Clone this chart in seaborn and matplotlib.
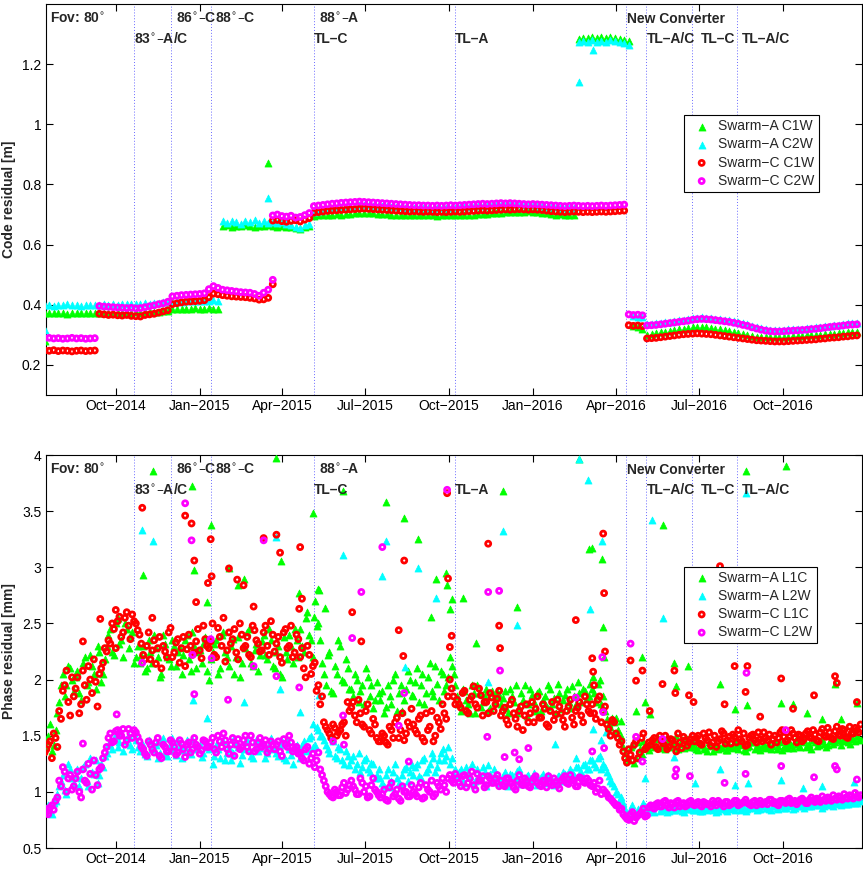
import pandas as pd
import matplotlib
matplotlib.use("Agg")
import matplotlib.pyplot as plt
import matplotlib.transforms as mtransforms
import seaborn as sns

sns.set_style("ticks")
plt.rcParams["font.family"] = ["Liberation Sans", "DejaVu Sans"]
plt.rcParams["axes.unicode_minus"] = True

# ---------------------------------------------------------------------------
# Code residuals [m], one sample every 5 days starting 2014-07-15
# ---------------------------------------------------------------------------
code_start = "2014-07-15"
code_step_days = 5

code_a_c1w = [
    0.372, 0.374, 0.371, 0.373, 0.372, 0.370, 0.373, 0.372, 0.374, 0.371, 0.372, 0.373,
    0.372, 0.373, 0.371, 0.372, 0.374, 0.373, 0.372, 0.374, 0.375, 0.374, 0.376, 0.375,
    0.377, 0.376, 0.378, 0.380,
    0.385, 0.386, 0.385, 0.387, 0.386, 0.388, 0.387, 0.386, 0.388, 0.387, 0.386,
    0.662, 0.664, 0.660, 0.663, 0.661, 0.665, 0.662, 0.660, 0.663, 0.661,
    0.664, 0.662, 0.660, 0.663, 0.658, 0.660, 0.655, 0.652, 0.658, 0.662,
    0.695, 0.697, 0.698, 0.700, 0.699, 0.701, 0.700, 0.702, 0.703, 0.704, 0.705,
    0.706, 0.705, 0.704, 0.703, 0.702, 0.701, 0.700, 0.699, 0.700, 0.698, 0.697,
    0.698, 0.697, 0.699, 0.698, 0.697, 0.696, 0.698, 0.697, 0.699, 0.698, 0.697, 0.698,
    0.699, 0.700, 0.701, 0.702, 0.703, 0.704, 0.705, 0.706, 0.707, 0.708, 0.708, 0.709,
    0.710, 0.711, 0.710, 0.709, 0.706, 0.704, 0.702, 0.700, 0.701, 0.699, 0.700, 0.698,
    1.285, 1.288, 1.286, 1.290, 1.287, 1.289, 1.286, 1.291, 1.288, 1.285, 1.280, 1.276,
    0.330, 0.325, 0.320,
    0.300, 0.302, 0.305, 0.308, 0.310, 0.313, 0.316, 0.318, 0.320, 0.322,
    0.325, 0.327, 0.326, 0.325, 0.323, 0.320, 0.318, 0.315, 0.312, 0.308,
    0.305, 0.302, 0.299, 0.296, 0.294, 0.293, 0.292, 0.292, 0.293, 0.292,
    0.293, 0.294, 0.295, 0.296, 0.297, 0.298, 0.299, 0.300, 0.301, 0.302,
    0.303, 0.304, 0.306, 0.307, 0.308, 0.309, 0.310,
]
code_a_c2w = [
    0.398, 0.400, 0.397, 0.399, 0.398, 0.401, 0.398, 0.400, 0.397, 0.399, 0.398, 0.400,
    0.400, 0.401, 0.399, 0.402, 0.400, 0.401, 0.403, 0.402, 0.404, 0.403, 0.405, 0.404,
    0.406, 0.405,
    0.408, 0.409, 0.410, 0.411, 0.410, 0.412, 0.411, 0.413, 0.412, 0.414, 0.413, 0.415, 0.414,
    0.678, 0.672, 0.680, 0.675, 0.670, 0.679, 0.674, 0.681, 0.673, 0.677,
    0.671, 0.676, 0.672, 0.674, 0.668, 0.665, 0.660, 0.656, 0.664, 0.670,
    0.708, 0.712, 0.715, 0.718, 0.720, 0.722, 0.724, 0.726, 0.728, 0.730, 0.731,
    0.732, 0.731, 0.730, 0.729, 0.728, 0.727, 0.726, 0.725, 0.724, 0.723, 0.722,
    0.722, 0.721, 0.722, 0.721, 0.720, 0.721, 0.722, 0.721, 0.722, 0.723, 0.724, 0.725,
    0.726, 0.727, 0.728, 0.729, 0.730, 0.731, 0.732, 0.733, 0.734, 0.734, 0.735, 0.734,
    0.733, 0.732, 0.731, 0.730, 0.728, 0.726, 0.725, 0.724, 0.723, 0.722, 0.722, 0.721,
    1.272, 1.276, 1.274, 1.279, 1.275, 1.278, 1.273, 1.280, 1.276, 1.274, 1.270, 1.265,
    0.362, 0.360, 0.358,
    0.336, 0.337, 0.338, 0.340, 0.342, 0.344, 0.346, 0.348, 0.350, 0.352,
    0.355, 0.357, 0.358, 0.357, 0.356, 0.354, 0.352, 0.350, 0.348, 0.345,
    0.342, 0.338, 0.335, 0.330, 0.326, 0.322, 0.319, 0.317, 0.316, 0.316,
    0.317, 0.318, 0.319, 0.320, 0.321, 0.322, 0.324, 0.325, 0.327, 0.329,
    0.331, 0.333, 0.334, 0.336, 0.338, 0.339, 0.340,
]
code_c_c1w = [
    0.248, 0.247, 0.249, 0.246, 0.248, 0.247, 0.245, 0.247, 0.248, 0.246, 0.247, 0.248,
    0.370, 0.368, 0.366, 0.367, 0.365, 0.364, 0.366, 0.363, 0.362, 0.361,
    0.366, 0.368, 0.370, 0.374, 0.378, 0.382, 0.402, 0.405, 0.408, 0.410,
    0.411, 0.412, 0.413, 0.415, 0.425, 0.437, 0.435, 0.432, 0.430, 0.428,
    0.427, 0.426, 0.425, 0.423, 0.421, 0.417, 0.418, 0.423,
    0.680, 0.682, 0.678, 0.676, 0.679, 0.681, 0.677, 0.683, 0.688,
    0.706, 0.708, 0.710, 0.712, 0.713, 0.714, 0.715, 0.716, 0.717, 0.718,
    0.719, 0.720, 0.719, 0.718, 0.717, 0.716, 0.715, 0.714, 0.713, 0.712,
    0.711, 0.710, 0.711, 0.710, 0.709, 0.710, 0.709, 0.708, 0.709, 0.708,
    0.709, 0.710, 0.709, 0.710, 0.711, 0.712, 0.713, 0.714, 0.713, 0.714,
    0.715, 0.716, 0.717, 0.716, 0.717, 0.718, 0.717, 0.716, 0.717, 0.716,
    0.715, 0.713, 0.711, 0.710, 0.709, 0.708, 0.709, 0.710, 0.709, 0.708,
    0.709, 0.708, 0.709, 0.710, 0.709, 0.710, 0.711, 0.712, 0.713,
    0.332, 0.330, 0.331, 0.329,
    0.288, 0.289, 0.290, 0.292, 0.294, 0.296, 0.298, 0.300, 0.302, 0.303,
    0.304, 0.305, 0.304, 0.303, 0.302, 0.300, 0.298, 0.296, 0.294, 0.292,
    0.290, 0.288, 0.286, 0.284, 0.282, 0.281, 0.280, 0.279, 0.278, 0.278,
    0.278, 0.279, 0.280, 0.281, 0.282, 0.283, 0.284, 0.285, 0.287, 0.288,
    0.290, 0.291, 0.292, 0.294, 0.295, 0.297, 0.298,
]
code_c_c2w = [
    0.289, 0.290, 0.288, 0.289, 0.287, 0.288, 0.290, 0.288, 0.289, 0.287, 0.288, 0.289,
    0.396, 0.394, 0.393, 0.392, 0.391, 0.390, 0.389, 0.390, 0.388, 0.389,
    0.392, 0.395, 0.398, 0.402, 0.405, 0.410, 0.428, 0.430, 0.432, 0.433,
    0.434, 0.435, 0.436, 0.438, 0.452, 0.462, 0.456, 0.450, 0.448, 0.446,
    0.444, 0.442, 0.441, 0.440, 0.436, 0.430, 0.440, 0.450,
    0.697, 0.700, 0.695, 0.693, 0.696, 0.690, 0.692, 0.698, 0.705,
    0.728, 0.730, 0.732, 0.734, 0.736, 0.737, 0.739, 0.740, 0.741, 0.742,
    0.743, 0.742, 0.741, 0.740, 0.739, 0.738, 0.737, 0.736, 0.735, 0.734,
    0.733, 0.732, 0.731, 0.731, 0.730, 0.730, 0.729, 0.730, 0.729, 0.730,
    0.731, 0.730, 0.731, 0.732, 0.733, 0.734, 0.735, 0.736, 0.735, 0.736,
    0.737, 0.738, 0.737, 0.738, 0.737, 0.736, 0.735, 0.734, 0.735, 0.734,
    0.733, 0.732, 0.731, 0.730, 0.729, 0.728, 0.729, 0.730, 0.729, 0.728,
    0.729, 0.728, 0.729, 0.730, 0.729, 0.730, 0.731, 0.732, 0.733,
    0.368, 0.366, 0.367, 0.365,
    0.331, 0.332, 0.333, 0.335, 0.337, 0.339, 0.341, 0.343, 0.345, 0.347,
    0.350, 0.352, 0.353, 0.352, 0.351, 0.349, 0.347, 0.345, 0.343, 0.340,
    0.337, 0.333, 0.330, 0.325, 0.321, 0.317, 0.314, 0.312, 0.311, 0.311,
    0.312, 0.313, 0.314, 0.315, 0.316, 0.317, 0.319, 0.320, 0.322, 0.324,
    0.326, 0.328, 0.329, 0.331, 0.333, 0.334, 0.335,
]

# isolated code residuals off the regular sampling
code_a_c1w_extra = [("2014-07-15", 0.28), ("2015-03-17", 0.87)]
code_a_c2w_extra = [("2014-07-15", 0.315), ("2015-03-17", 0.755),
                    ("2016-02-20", 1.14), ("2016-03-07", 1.248)]
code_c_c1w_extra = [("2015-03-22", 0.468)]
code_c_c2w_extra = [("2015-03-22", 0.483)]

# ---------------------------------------------------------------------------
# Phase residuals [mm], every 4 days from 2014-07-15, plus the in-between
# samples (every 4 days from 2014-07-17)
# ---------------------------------------------------------------------------
phase_start = "2014-07-15"
phase_mid_start = "2014-07-17"
phase_step_days = 4

phase_a_l1c = [
    1.40, 1.50, 1.36, 1.55,
    1.80, 2.05, 1.95, 2.10,
    1.90, 2.08, 1.82, 2.20, 1.98, 2.12, 1.92, 2.25, 2.05,
    2.30, 2.45, 2.22, 2.55, 2.35, 2.50, 2.28, 2.42, 2.20,
    2.15, 2.30, 2.10, 2.25, 2.40, 2.20, 2.05, 2.32, 2.18, 2.35,
    2.12, 2.28, 2.22, 2.40, 2.08, 2.30, 2.25, 2.15, 2.38,
    2.00, 2.25, 2.35, 2.10, 2.42, 2.20, 2.30, 2.05, 2.38, 2.15,
    2.28, 2.45, 2.12, 2.32, 2.22, 2.40, 2.18, 2.35,
    2.10, 2.30, 2.02, 2.25, 2.40, 2.15, 2.35,
    2.45, 2.25, 2.60, 2.35, 2.70, 2.50,
    2.15, 1.95, 2.25, 1.88, 2.05, 2.30, 1.98, 2.10,
    1.92, 2.05, 1.80, 1.95, 2.10, 1.85, 1.75, 1.98,
    1.82, 1.70, 1.95, 1.78, 2.05, 1.88, 1.72, 1.92, 2.00,
    1.85, 2.10, 1.95, 1.78, 2.02, 1.90, 2.12, 1.82, 2.05, 1.95,
    2.20, 2.05,
    1.85, 1.72, 1.90, 1.78, 1.95, 1.70, 1.88, 1.80, 1.92, 1.75, 1.85, 1.90,
    1.78, 1.90, 1.70, 1.85, 1.95, 1.75, 1.82, 1.68, 1.92, 1.80,
    1.88, 1.72, 1.85, 1.95, 1.78, 1.70, 1.88, 1.82, 1.92, 1.75,
    1.85, 1.98, 1.80, 1.90, 1.85,
    1.92, 1.80, 2.00, 1.85,
    1.65, 1.58, 1.62, 1.55, 1.50,
    1.35, 1.28, 1.42, 1.30, 1.38, 1.45, 1.40,
    1.45, 1.40, 1.48, 1.42, 1.38, 1.46, 1.41, 1.50, 1.43, 1.39, 1.47, 1.42,
    1.40, 1.37, 1.42, 1.38, 1.44, 1.36, 1.41, 1.39, 1.43, 1.37,
    1.40, 1.45, 1.38, 1.42, 1.36, 1.41, 1.44, 1.39, 1.37, 1.43,
    1.40, 1.38, 1.45, 1.41, 1.37, 1.42, 1.44, 1.39, 1.43, 1.40,
    1.46, 1.41, 1.38, 1.44, 1.42, 1.47, 1.40, 1.45, 1.43, 1.48,
    1.42, 1.46, 1.44, 1.49, 1.45, 1.47,
]
phase_a_l1c_mid = [
    1.45, 1.60, 1.42, 1.70,
    1.95, 1.85, 2.12, 2.00,
    2.02, 1.88, 2.15, 1.95, 2.22, 2.05, 2.30, 1.98, 2.18,
    2.40, 2.25, 2.50, 2.32, 2.20, 2.45, 2.38, 2.15, 2.30,
    2.22, 2.08, 2.35, 2.15, 2.28, 2.02, 2.40, 2.20, 2.12, 2.30,
    2.25, 2.05, 2.35, 2.18, 2.42, 2.10, 2.26, 2.32, 2.08,
    2.18, 2.32, 2.05, 2.40, 2.25, 2.12, 2.36, 2.20, 2.02, 2.30,
    2.42, 2.15, 2.26, 2.08, 2.34, 2.22, 2.45, 2.12,
    2.25, 2.05, 2.38, 2.18, 2.30, 2.45, 2.20,
    2.30, 2.55, 2.40, 2.20, 2.48, 2.35,
    2.05, 2.22, 1.90, 2.12, 2.35, 2.00, 2.18, 1.92,
    1.85, 2.00, 1.90, 1.78, 2.02, 1.95, 1.82, 1.88,
    1.90, 1.76, 1.85, 2.00, 1.72, 1.95, 1.82, 2.08, 1.86,
    1.98, 1.80, 2.05, 1.88, 2.15, 1.85, 1.96, 2.08, 1.90, 2.02,
    2.12, 1.95,
    1.78, 1.92, 1.82, 1.70, 1.88, 1.95, 1.76, 1.85, 1.72, 1.90, 1.80, 1.86,
    1.84, 1.75, 1.92, 1.80, 1.70, 1.88, 1.95, 1.78, 1.86, 1.72,
    1.90, 1.82, 1.76, 1.92, 1.84, 1.96, 1.74, 1.86, 1.80, 1.94,
    1.78, 1.88, 1.92, 1.84, 1.96,
    1.88, 1.96, 1.78, 1.72,
    1.60, 1.66, 1.52, 1.48, 1.40,
    1.30, 1.40, 1.26, 1.44, 1.34, 1.42, 1.37,
    1.42, 1.47, 1.39, 1.44, 1.49, 1.40, 1.45, 1.38, 1.46, 1.42, 1.40, 1.44,
    1.38, 1.42, 1.39, 1.36, 1.41, 1.43, 1.38, 1.40, 1.37, 1.42,
    1.39, 1.41, 1.43, 1.37, 1.40, 1.44, 1.38, 1.42, 1.40, 1.39,
    1.43, 1.41, 1.38, 1.44, 1.40, 1.39, 1.42, 1.45, 1.41, 1.44,
    1.40, 1.43, 1.46, 1.41, 1.45, 1.43, 1.42, 1.47, 1.44, 1.46,
    1.45, 1.48, 1.43, 1.47, 1.50, 1.46,
]
phase_a_l2w = [
    0.82, 0.88, 0.80, 0.92,
    1.05, 1.15, 0.98, 1.20,
    1.08, 1.20, 1.12, 1.25, 1.05, 1.18, 1.28, 1.15, 1.22,
    1.35, 1.42, 1.48, 1.40, 1.52, 1.45, 1.50, 1.38, 1.46,
    1.36, 1.42, 1.32, 1.45, 1.38, 1.30, 1.44, 1.35, 1.40, 1.48,
    1.33, 1.41, 1.37, 1.46, 1.34, 1.43, 1.39, 1.31, 1.45,
    1.38, 1.25, 1.42, 1.30, 1.45, 1.35, 1.28, 1.48, 1.40, 1.33,
    1.44, 1.37, 1.30, 1.46, 1.39, 1.42, 1.35, 1.48,
    1.40, 1.32, 1.45, 1.28, 1.38, 1.25, 1.42,
    1.30, 1.45, 1.38, 1.50, 1.42, 1.55,
    1.50, 1.42, 1.35, 1.45, 1.30, 1.38, 1.25, 1.32,
    1.28, 1.20, 1.35, 1.22, 1.30, 1.18, 1.25, 1.15,
    1.12, 1.05, 1.20, 1.10, 1.25, 1.08, 1.15, 1.22, 1.18,
    1.15, 1.25, 1.12, 1.30, 1.20, 1.35, 1.18, 1.28, 1.38, 1.32,
    1.25, 1.15,
    1.12, 1.20, 1.08, 1.18, 1.25, 1.10, 1.15, 1.22, 1.05, 1.16, 1.20, 1.12,
    1.10, 1.18, 1.05, 1.15, 1.12, 1.20, 1.08, 1.14, 1.10, 1.17,
    1.06, 1.13, 1.09, 1.15, 1.11, 1.07, 1.14, 1.18, 1.10, 1.20,
    1.15, 1.22, 1.18, 1.25, 1.20,
    1.28, 1.22, 1.32, 1.25,
    1.18, 1.10, 1.05, 0.98, 0.95,
    0.85, 0.78, 0.88, 0.80, 0.84, 0.90, 0.82,
    0.86, 0.82, 0.88, 0.84, 0.85, 0.83, 0.87, 0.84, 0.86, 0.82, 0.85, 0.87,
    0.84, 0.86, 0.83, 0.85, 0.87, 0.84, 0.82, 0.86, 0.85, 0.83,
    0.86, 0.84, 0.87, 0.85, 0.83, 0.86, 0.88, 0.84, 0.85, 0.87,
    0.86, 0.84, 0.88, 0.85, 0.87, 0.86, 0.89, 0.85, 0.87, 0.88,
    0.86, 0.89, 0.87, 0.90, 0.88, 0.86, 0.89, 0.91, 0.87, 0.90,
    0.88, 0.92, 0.89, 0.91, 0.90, 0.93,
]
phase_a_l2w_mid = [
    0.85, 0.84, 0.90, 0.98,
    1.10, 1.02, 1.25, 1.12,
    1.15, 1.05, 1.22, 1.10, 1.30, 1.16, 1.08, 1.25, 1.32,
    1.42, 1.38, 1.50, 1.44, 1.36, 1.48, 1.42, 1.52, 1.40,
    1.40, 1.34, 1.46, 1.38, 1.42, 1.35, 1.48, 1.32, 1.43, 1.37,
    1.45, 1.30, 1.40, 1.36, 1.47, 1.38, 1.42, 1.35, 1.40,
    1.42, 1.32, 1.38, 1.45, 1.28, 1.40, 1.35, 1.43, 1.26, 1.38,
    1.46, 1.32, 1.40, 1.36, 1.44, 1.30, 1.42, 1.38,
    1.35, 1.42, 1.30, 1.46, 1.33, 1.40, 1.36,
    1.42, 1.36, 1.48, 1.40, 1.58, 1.50,
    1.46, 1.38, 1.50, 1.32, 1.40, 1.28, 1.36, 1.24,
    1.32, 1.25, 1.18, 1.28, 1.20, 1.26, 1.12, 1.20,
    1.08, 1.15, 1.04, 1.18, 1.12, 1.06, 1.20, 1.10, 1.24,
    1.22, 1.14, 1.28, 1.18, 1.25, 1.30, 1.22, 1.35, 1.28, 1.40,
    1.30, 1.20,
    1.18, 1.10, 1.22, 1.14, 1.06, 1.20, 1.12, 1.18, 1.24, 1.10, 1.15, 1.08,
    1.14, 1.08, 1.16, 1.10, 1.19, 1.07, 1.12, 1.15, 1.09, 1.13,
    1.11, 1.16, 1.08, 1.12, 1.06, 1.14, 1.10, 1.16, 1.12, 1.18,
    1.22, 1.16, 1.24, 1.20, 1.28,
    1.25, 1.30, 1.20, 1.22,
    1.14, 1.08, 1.00, 0.94, 0.90,
    0.80, 0.86, 0.79, 0.85, 0.82, 0.87, 0.84,
    0.84, 0.87, 0.83, 0.86, 0.82, 0.85, 0.84, 0.86, 0.83, 0.87, 0.85, 0.84,
    0.85, 0.83, 0.86, 0.84, 0.86, 0.85, 0.83, 0.87, 0.84, 0.86,
    0.85, 0.87, 0.84, 0.86, 0.85, 0.87, 0.86, 0.85, 0.88, 0.86,
    0.85, 0.87, 0.86, 0.88, 0.86, 0.87, 0.88, 0.86, 0.89, 0.87,
    0.88, 0.87, 0.89, 0.88, 0.90, 0.87, 0.89, 0.88, 0.90, 0.89,
    0.91, 0.89, 0.90, 0.92, 0.90, 0.92,
]
phase_c_l1c = [
    1.35, 1.42, 1.30, 1.48,
    1.72, 1.90, 2.08, 1.68,
    1.85, 2.02, 1.78, 1.95, 2.12, 1.88, 1.98, 2.05, 2.15,
    2.25, 2.32, 2.45, 2.52, 2.38, 2.55, 2.48, 2.58, 2.50,
    2.40, 2.22, 2.30, 2.18, 2.35, 2.28, 2.10, 2.25, 2.42, 2.20,
    2.33, 2.15, 2.38, 2.27, 2.30, 2.24, 2.45, 2.19, 2.36,
    2.28, 2.50, 2.20, 2.38, 2.55, 2.26, 2.32, 2.45, 2.18, 2.40,
    2.30, 2.22, 2.48, 2.35, 2.25, 2.42, 2.30, 2.52,
    2.25, 2.38, 2.15, 2.45, 2.30, 2.20, 2.40,
    2.20, 2.10, 2.30, 2.05, 2.15, 1.95,
    1.85, 1.58, 1.52, 1.60, 1.50, 1.55, 1.62, 1.80,
    1.75, 1.68, 1.82, 1.60, 1.72, 1.55, 1.65, 1.48,
    1.45, 1.50, 1.42, 1.55, 1.62, 1.48, 1.70, 1.52, 1.58,
    1.60, 1.52, 1.68, 1.45, 1.55, 1.72, 1.50, 1.62, 1.78, 1.65,
    2.00, 1.85,
    1.82, 1.75, 1.90, 1.70, 1.85, 1.78, 1.92, 1.68, 1.80, 1.88, 1.72, 1.83,
    1.68, 1.75, 1.60, 1.82, 1.65, 1.72, 1.55, 1.78, 1.70, 1.62,
    1.85, 1.66, 1.74, 1.58, 1.80, 1.69, 1.76, 1.64, 1.72, 1.82,
    1.60, 1.75, 1.68, 1.85, 1.72,
    1.78, 1.65, 1.85, 1.72,
    1.60, 1.50, 1.62, 1.48, 1.45,
    1.30, 1.38, 1.28, 1.45, 1.35, 1.52, 1.40,
    1.42, 1.48, 1.38, 1.45, 1.50, 1.40, 1.46, 1.36, 1.44, 1.49, 1.41, 1.47,
    1.45, 1.50, 1.42, 1.48, 1.53, 1.44, 1.40, 1.47, 1.52, 1.46,
    1.43, 1.49, 1.55, 1.45, 1.41, 1.48, 1.51, 1.44, 1.47, 1.53,
    1.46, 1.42, 1.50, 1.48, 1.55, 1.45, 1.49, 1.52, 1.44, 1.50,
    1.47, 1.54, 1.48, 1.51, 1.45, 1.56, 1.49, 1.53, 1.47, 1.58,
    1.50, 1.55, 1.48, 1.52, 1.57, 1.53,
]
phase_c_l1c_mid = [
    1.38, 1.45, 1.52, 1.40,
    1.65, 1.95, 1.80, 2.02,
    1.92, 1.70, 2.08, 1.82, 2.00, 2.18, 1.76, 2.10, 2.28,
    2.35, 2.50, 2.28, 2.56, 2.42, 2.60, 2.36, 2.52, 2.44,
    2.32, 2.18, 2.42, 2.26, 2.14, 2.38, 2.30, 2.20, 2.46, 2.24,
    2.36, 2.28, 2.12, 2.40, 2.22, 2.34, 2.26, 2.48, 2.30,
    2.34, 2.22, 2.46, 2.30, 2.16, 2.42, 2.36, 2.24, 2.50, 2.28,
    2.38, 2.20, 2.44, 2.32, 2.26, 2.48, 2.22, 2.40,
    2.32, 2.20, 2.42, 2.28, 2.48, 2.24, 2.36,
    2.28, 2.02, 2.22, 2.12, 1.90, 1.78,
    1.62, 1.55, 1.48, 1.57, 1.53, 1.60, 1.50, 1.72,
    1.80, 1.62, 1.70, 1.58, 1.78, 1.52, 1.60, 1.45,
    1.52, 1.44, 1.58, 1.48, 1.66, 1.55, 1.46, 1.62, 1.74,
    1.55, 1.65, 1.48, 1.70, 1.58, 1.45, 1.66, 1.56, 1.70, 1.85,
    1.92, 1.78,
    1.78, 1.88, 1.72, 1.82, 1.94, 1.75, 1.86, 1.80, 1.70, 1.84, 1.78, 1.90,
    1.72, 1.64, 1.78, 1.70, 1.58, 1.76, 1.68, 1.62, 1.80, 1.74,
    1.66, 1.78, 1.60, 1.72, 1.64, 1.82, 1.70, 1.58, 1.76, 1.66,
    1.72, 1.80, 1.62, 1.78, 1.70,
    1.70, 1.82, 1.62, 1.76,
    1.56, 1.64, 1.52, 1.42, 1.36,
    1.26, 1.33, 1.42, 1.30, 1.48, 1.38, 1.44,
    1.46, 1.40, 1.50, 1.43, 1.38, 1.47, 1.42, 1.52, 1.39, 1.46, 1.44, 1.50,
    1.48, 1.43, 1.52, 1.46, 1.41, 1.50, 1.45, 1.54, 1.43, 1.49,
    1.51, 1.44, 1.47, 1.52, 1.42, 1.50, 1.46, 1.53, 1.45, 1.48,
    1.51, 1.47, 1.44, 1.53, 1.49, 1.46, 1.55, 1.48, 1.51, 1.45,
    1.52, 1.49, 1.55, 1.46, 1.53, 1.50, 1.57, 1.48, 1.54, 1.51,
    1.56, 1.49, 1.58, 1.52, 1.55, 1.60,
]
phase_c_l2w = [
    0.85, 0.80, 0.88, 0.92,
    1.10, 1.22, 1.00, 1.15,
    1.05, 1.18, 0.95, 1.10, 1.25, 1.02, 1.15, 1.20, 1.30,
    1.40, 1.52, 1.45, 1.55, 1.50, 1.42, 1.56, 1.48, 1.53,
    1.45, 1.38, 1.32, 1.42, 1.35, 1.48, 1.30, 1.40, 1.36, 1.44,
    1.33, 1.46, 1.38, 1.42, 1.35, 1.48, 1.40, 1.37, 1.45,
    1.40, 1.48, 1.35, 1.45, 1.52, 1.38, 1.42, 1.32, 1.47, 1.40,
    1.50, 1.36, 1.44, 1.38, 1.48, 1.42, 1.35, 1.45,
    1.38, 1.45, 1.32, 1.42, 1.50, 1.36, 1.40,
    1.35, 1.28, 1.40, 1.30, 1.22, 1.35,
    1.15, 1.05, 0.98, 0.95, 1.00, 0.97, 1.08, 1.02,
    1.10, 1.02, 0.98, 1.08, 1.05, 0.96, 1.12, 1.00,
    0.95, 1.02, 0.92, 1.08, 0.98, 0.94, 1.05, 1.00, 0.96,
    1.00, 0.96, 1.08, 0.95, 1.02, 1.10, 0.98, 1.05, 1.12, 1.00,
    1.15, 1.08,
    1.12, 1.05, 1.15, 1.08, 1.18, 1.02, 1.10, 1.14, 1.06, 1.12, 1.08, 1.15,
    1.10, 1.05, 1.12, 1.08, 1.02, 1.15, 1.06, 1.10, 1.04, 1.12,
    1.08, 1.05, 1.10, 1.14, 1.06, 1.09, 1.03, 1.12, 1.08, 1.15,
    1.10, 1.05, 1.12, 1.08, 1.10,
    1.05, 1.00, 1.10, 1.02,
    0.98, 0.94, 0.90, 0.88, 0.85,
    0.78, 0.75, 0.82, 0.77, 0.80, 0.85, 0.79,
    0.88, 0.85, 0.90, 0.87, 0.92, 0.86, 0.89, 0.91, 0.87, 0.90, 0.88, 0.92,
    0.88, 0.91, 0.87, 0.90, 0.89, 0.92, 0.88, 0.90, 0.87, 0.91,
    0.89, 0.92, 0.88, 0.90, 0.93, 0.89, 0.91, 0.88, 0.92, 0.90,
    0.89, 0.93, 0.91, 0.88, 0.92, 0.90, 0.94, 0.91, 0.89, 0.93,
    0.92, 0.90, 0.95, 0.91, 0.93, 0.96, 0.92, 0.94, 0.97, 0.93,
    0.95, 0.98, 0.94, 0.96, 0.99, 0.95,
]
phase_c_l2w_mid = [
    0.82, 0.86, 0.84, 0.95,
    1.05, 1.18, 1.12, 1.02,
    1.12, 1.00, 1.20, 1.08, 1.16, 1.28, 1.06, 1.22, 1.35,
    1.48, 1.44, 1.54, 1.50, 1.56, 1.46, 1.52, 1.55, 1.49,
    1.40, 1.34, 1.45, 1.38, 1.44, 1.32, 1.42, 1.36, 1.46, 1.40,
    1.35, 1.43, 1.31, 1.44, 1.38, 1.42, 1.34, 1.46, 1.40,
    1.44, 1.38, 1.50, 1.40, 1.46, 1.34, 1.48, 1.42, 1.38, 1.46,
    1.40, 1.50, 1.36, 1.44, 1.40, 1.46, 1.38, 1.42,
    1.42, 1.36, 1.47, 1.40, 1.44, 1.38, 1.34,
    1.30, 1.38, 1.25, 1.34, 1.28, 1.20,
    1.10, 1.00, 0.96, 1.02, 0.97, 1.04, 0.99, 1.06,
    1.05, 0.98, 1.12, 1.00, 0.95, 1.06, 1.02, 0.97,
    0.98, 0.93, 1.04, 0.96, 1.02, 0.92, 1.00, 0.96, 1.06,
    0.98, 1.04, 0.94, 1.06, 1.00, 0.96, 1.08, 1.02, 1.06, 1.12,
    1.10, 1.16,
    1.08, 1.14, 1.04, 1.12, 1.06, 1.16, 1.10, 1.04, 1.14, 1.08, 1.12, 1.05,
    1.06, 1.12, 1.08, 1.04, 1.10, 1.07, 1.12, 1.05, 1.09, 1.14,
    1.06, 1.10, 1.04, 1.08, 1.12, 1.06, 1.10, 1.14, 1.07, 1.11,
    1.05, 1.13, 1.09, 1.12, 1.06,
    1.08, 1.03, 0.98, 1.00,
    0.95, 0.92, 0.88, 0.84, 0.80,
    0.76, 0.80, 0.74, 0.79, 0.82, 0.78, 0.86,
    0.86, 0.89, 0.87, 0.91, 0.88, 0.90, 0.86, 0.92, 0.89, 0.87, 0.91, 0.89,
    0.90, 0.88, 0.91, 0.89, 0.87, 0.90, 0.92, 0.89, 0.91, 0.88,
    0.90, 0.92, 0.89, 0.91, 0.90, 0.88, 0.92, 0.90, 0.89, 0.91,
    0.93, 0.90, 0.89, 0.92, 0.91, 0.93, 0.90, 0.92, 0.91, 0.94,
    0.90, 0.93, 0.92, 0.94, 0.91, 0.93, 0.95, 0.92, 0.94, 0.96,
    0.93, 0.95, 0.97, 0.94, 0.96, 0.97,
]

# isolated phase residuals off the regular sampling
phase_a_l1c_extra = [
    ("2014-11-11", 3.86), ("2014-12-23", 3.72), ("2014-10-31", 2.93), ("2014-12-26", 2.98),
    ("2015-01-13", 3.38), ("2015-02-02", 2.99), ("2015-02-12", 2.84), ("2015-02-18", 2.90),
    ("2015-03-26", 3.97), ("2015-03-31", 3.06), ("2015-04-20", 2.77), ("2015-05-05", 3.48),
    ("2015-05-11", 2.81), ("2015-01-09", 2.69), ("2015-06-07", 3.68), ("2015-07-24", 3.58),
    ("2015-08-13", 3.44), ("2015-08-28", 3.25), ("2015-09-17", 2.90), ("2015-09-28", 2.95),
    ("2015-09-29", 2.84), ("2015-10-04", 2.72), ("2015-10-02", 2.63), ("2015-10-16", 2.73),
    ("2015-05-12", 2.80), ("2015-05-18", 2.64), ("2015-05-06", 2.56), ("2015-11-29", 3.68),
    ("2015-12-15", 2.65), ("2015-10-31", 2.33), ("2015-09-11", 2.56), ("2016-03-02", 3.16),
    ("2016-02-21", 3.96), ("2016-03-06", 3.17), ("2016-03-17", 3.07), ("2016-03-18", 2.47),
    ("2016-03-19", 2.20), ("2016-04-29", 2.20), ("2016-05-03", 1.80), ("2016-04-23", 1.72),
    ("2016-05-08", 1.69), ("2016-05-22", 3.38), ("2016-06-04", 2.15), ("2016-06-06", 1.94),
    ("2016-06-19", 2.12), ("2016-07-24", 1.96), ("2016-08-09", 1.74), ("2016-08-23", 1.77),
    ("2016-08-21", 3.86), ("2016-10-04", 3.90), ("2016-09-29", 1.79), ("2016-10-12", 1.78),
    ("2016-10-27", 1.70), ("2016-11-27", 1.96), ("2016-11-13", 1.65), ("2016-12-04", 1.65),
    ("2016-12-21", 1.79), ("2016-03-07", 2.02), ("2016-04-01", 1.66), ("2016-04-06", 1.63),
]
phase_a_l2w_extra = [
    ("2014-10-30", 3.33), ("2014-11-11", 3.23), ("2015-03-26", 3.27), ("2014-12-25", 1.82),
    ("2015-01-09", 1.66), ("2015-02-18", 1.80), ("2015-03-30", 1.92), ("2015-04-21", 1.71),
    ("2015-05-12", 1.86), ("2015-06-07", 3.11), ("2015-07-24", 3.23), ("2015-08-28", 2.99),
    ("2015-07-20", 2.92), ("2015-09-17", 2.73), ("2015-11-29", 3.32), ("2015-12-15", 2.49),
    ("2016-02-20", 3.96), ("2015-08-14", 2.11), ("2015-05-05", 1.60), ("2015-11-13", 1.98),
    ("2016-01-25", 1.43), ("2016-03-04", 2.63), ("2016-02-17", 1.30), ("2016-03-01", 3.78),
    ("2016-03-17", 3.23), ("2016-05-10", 3.42), ("2016-05-22", 2.55), ("2016-08-22", 3.66),
    ("2016-07-24", 1.20), ("2016-06-04", 1.31), ("2016-06-27", 1.08), ("2016-08-09", 1.06),
    ("2016-09-29", 1.11), ("2016-08-24", 1.08), ("2016-05-03", 1.12), ("2016-03-16", 1.46),
    ("2016-03-07", 1.56), ("2016-03-21", 1.53), ("2016-11-13", 1.05), ("2016-12-18", 1.09),
    ("2016-10-23", 1.03),
]
phase_c_l1c_extra = [
    ("2014-10-30", 3.53), ("2014-12-16", 3.46), ("2014-12-23", 3.39), ("2014-12-26", 3.06),
    ("2014-12-28", 2.69), ("2015-01-13", 3.25), ("2015-01-14", 2.92), ("2015-01-10", 2.86),
    ("2015-02-02", 2.99), ("2015-02-11", 2.89), ("2015-02-18", 2.84), ("2015-03-01", 2.65),
    ("2015-03-12", 3.26), ("2015-03-26", 3.29), ("2015-03-30", 3.13), ("2015-04-21", 3.18),
    ("2015-04-23", 2.72), ("2015-04-20", 2.63), ("2014-09-14", 2.54), ("2014-10-01", 2.62),
    ("2014-11-10", 2.55), ("2014-08-26", 2.34), ("2015-09-29", 3.66), ("2015-11-13", 3.21),
    ("2015-08-13", 3.06), ("2015-09-30", 2.90), ("2015-06-17", 2.60), ("2015-11-25", 2.48),
    ("2015-11-26", 2.28), ("2015-08-07", 2.44), ("2015-06-27", 2.34), ("2015-08-12", 2.21),
    ("2016-02-17", 2.53), ("2015-10-04", 2.39), ("2015-10-02", 2.29), ("2016-03-18", 3.30),
    ("2016-03-19", 2.77), ("2016-03-20", 2.25), ("2016-03-06", 2.19), ("2016-03-07", 2.07),
    ("2016-03-08", 1.95), ("2016-04-17", 2.17), ("2016-04-30", 2.08), ("2016-04-23", 1.99),
    ("2016-05-22", 1.96), ("2016-06-04", 2.08), ("2016-06-05", 1.88), ("2016-06-20", 1.86),
    ("2016-06-25", 1.80), ("2016-07-24", 3.01), ("2016-08-09", 2.12), ("2016-08-23", 2.12),
    ("2016-08-21", 1.89), ("2016-07-29", 1.78), ("2016-09-29", 2.01), ("2016-11-04", 1.86),
    ("2016-11-27", 2.03), ("2016-11-29", 1.97), ("2016-12-21", 1.80), ("2016-10-12", 1.74),
    ("2016-09-06", 1.67), ("2016-05-08", 1.72),
]
phase_c_l2w_extra = [
    ("2014-12-16", 3.57), ("2014-12-23", 3.24), ("2014-10-30", 2.15), ("2014-12-24", 2.22),
    ("2015-01-13", 2.36), ("2015-01-14", 2.19), ("2015-03-01", 2.12), ("2015-03-12", 3.24),
    ("2015-03-26", 2.03), ("2015-04-20", 1.93), ("2014-12-26", 1.87), ("2015-02-01", 1.82),
    ("2014-10-02", 1.69), ("2014-08-26", 1.43), ("2015-09-29", 3.69), ("2015-07-20", 3.18),
    ("2015-06-27", 2.78), ("2015-11-13", 2.78), ("2015-11-25", 2.79), ("2015-06-17", 2.37),
    ("2015-11-26", 2.08), ("2016-02-17", 1.84), ("2015-08-13", 1.88), ("2015-08-07", 1.59),
    ("2015-06-07", 1.68), ("2015-06-08", 1.42), ("2015-05-27", 1.45), ("2015-08-18", 1.27),
    ("2015-11-12", 1.49), ("2015-12-27", 1.39), ("2015-12-12", 1.35), ("2015-12-17", 1.29),
    ("2015-12-01", 1.31), ("2016-03-17", 2.20), ("2016-03-06", 1.36), ("2016-03-18", 1.71),
    ("2016-03-19", 1.39), ("2016-04-17", 2.32), ("2016-04-23", 1.49), ("2016-04-30", 1.27),
    ("2016-05-22", 1.47), ("2016-06-06", 1.20), ("2016-06-05", 1.14), ("2016-06-21", 1.14),
    ("2016-08-22", 2.06), ("2016-08-21", 1.16), ("2016-07-29", 1.08), ("2016-09-29", 1.23),
    ("2016-10-04", 1.55), ("2016-11-04", 1.13), ("2016-11-27", 1.23), ("2016-11-29", 1.20),
    ("2016-12-21", 1.11),
]

# ---------------------------------------------------------------------------
# Events: configuration changes marked as dotted lines, with their captions
# ---------------------------------------------------------------------------
event_dates = ["2014-10-21", "2014-12-01", "2015-01-13", "2015-05-06", "2015-10-08",
               "2016-04-12", "2016-05-04", "2016-06-23", "2016-08-12"]
event_texts = ["Fov: 80$^{\\circ}$", "83$^{\\circ}$\u2013A/C", "86$^{\\circ}$\u2013C",
               "88$^{\\circ}$\u2013C", "88$^{\\circ}$\u2013A", "TL\u2013C", "TL\u2013A",
               "New Converter", "TL\u2013A/C", "TL\u2013C", "TL\u2013A/C"]
event_text_dates = ["2014-07-21", "2014-10-21", "2014-12-06", "2015-01-18", "2015-05-12",
                    "2015-05-06", "2015-10-08", "2016-04-13", "2016-05-05", "2016-07-03",
                    "2016-08-17"]
event_text_rows = [0, 1, 0, 0, 0, 1, 1, 0, 1, 1, 1]

tick_dates = ["2014-10-01", "2015-01-01", "2015-04-01", "2015-07-01", "2015-10-01",
              "2016-01-01", "2016-04-01", "2016-07-01", "2016-10-01"]
tick_labels = ["Oct\u22122014", "Jan\u22122015", "Apr\u22122015", "Jul\u22122015",
               "Oct\u22122015", "Jan\u22122016", "Apr\u22122016", "Jul\u22122016",
               "Oct\u22122016"]

code_labels = ["Swarm\u2212A C1W", "Swarm\u2212A C2W", "Swarm\u2212C C1W", "Swarm\u2212C C2W"]
phase_labels = ["Swarm\u2212A L1C", "Swarm\u2212A L2W", "Swarm\u2212C L1C", "Swarm\u2212C L2W"]
code_yticks = [0.2, 0.4, 0.6, 0.8, 1.0, 1.2]
code_yticklabels = ["0.2", "0.4", "0.6", "0.8", "1", "1.2"]
phase_yticks = [0.5, 1.0, 1.5, 2.0, 2.5, 3.0, 3.5, 4.0]
phase_yticklabels = ["0.5", "1", "1.5", "2", "2.5", "3", "3.5", "4"]

colors = ["#00ff00", "#00ffff", "#ff0000", "#ff00ff"]
markers = ["^", "^", "o", "o"]


def sampled(start, step, values):
    dates = pd.date_range(start, periods=len(values), freq=f"{step}D")
    return pd.DataFrame({"date": dates, "value": values})


def series_frame(parts, extra):
    frames = [sampled(start, step, values) for start, step, values in parts]
    if extra:
        more = pd.DataFrame(extra, columns=["date", "value"])
        more["date"] = pd.to_datetime(more["date"])
        frames.append(more)
    return pd.concat(frames, ignore_index=True).sort_values("date")


def draw_panel(ax, frames, labels, ylim, yticks, yticklabels, ylabel):
    for frame, label, color, marker in zip(frames, labels, colors, markers):
        if marker == "^":
            sns.scatterplot(data=frame, x="date", y="value", ax=ax, marker="^", s=26,
                            color=color, edgecolor=color, linewidth=0.5,
                            label=label, legend=False, zorder=3)
        else:
            sns.scatterplot(data=frame, x="date", y="value", ax=ax, marker="o", s=13,
                            facecolors="none", edgecolor=color, linewidth=2.0,
                            label=label, legend=False, zorder=3)
            coll = ax.collections[-1]
            coll.set_facecolor("none")
            coll.set_edgecolor(color)
    for d in event_dates:
        ax.axvline(pd.Timestamp(d), color="#6a6aff", linestyle=(0, (1, 2)),
                   linewidth=0.7, zorder=1)
    blend = mtransforms.blended_transform_factory(ax.transData, ax.transAxes)
    for d, txt, row in zip(event_text_dates, event_texts, event_text_rows):
        ax.text(pd.Timestamp(d), 0.951 if row == 0 else 0.900, txt, transform=blend,
                ha="left", va="baseline", fontsize=10, fontweight="bold", zorder=4)
    ax.set_xlim(pd.Timestamp("2014-07-16"), pd.Timestamp("2016-12-26"))
    ax.set_ylim(*ylim)
    ax.set_xticks(pd.to_datetime(tick_dates))
    ax.set_xticklabels(tick_labels)
    ax.set_yticks(yticks)
    ax.set_yticklabels(yticklabels)
    ax.set_xlabel("")
    ax.set_ylabel(ylabel, fontsize=10, fontweight="bold", labelpad=4)
    ax.tick_params(direction="in", length=5, width=0.8, top=True, right=True,
                   labelsize=10, pad=3, colors="black")
    for sp in ax.spines.values():
        sp.set_color("black")
        sp.set_linewidth(0.8)
    leg = ax.legend(loc="upper left", bbox_to_anchor=(0.782, 0.716), fontsize=10,
                    frameon=True, fancybox=False, framealpha=1, edgecolor="black",
                    borderpad=0.3, handlelength=2.0, handletextpad=0.2,
                    labelspacing=0.3, borderaxespad=0)
    leg.get_frame().set_linewidth(0.8)


fig = plt.figure(figsize=(8.63, 8.69), dpi=100)
ax_code = fig.add_axes([45.5 / 863, 1 - 395 / 869, 816 / 863, 391 / 869])
ax_phase = fig.add_axes([45.5 / 863, 1 - 848 / 869, 816 / 863, 393 / 869])

code_frames = [
    series_frame([(code_start, code_step_days, code_a_c1w)], code_a_c1w_extra),
    series_frame([(code_start, code_step_days, code_a_c2w)], code_a_c2w_extra),
    series_frame([(code_start, code_step_days, code_c_c1w)], code_c_c1w_extra),
    series_frame([(code_start, code_step_days, code_c_c2w)], code_c_c2w_extra),
]
phase_frames = [
    series_frame([(phase_start, phase_step_days, phase_a_l1c),
                  (phase_mid_start, phase_step_days, phase_a_l1c_mid)], phase_a_l1c_extra),
    series_frame([(phase_start, phase_step_days, phase_a_l2w),
                  (phase_mid_start, phase_step_days, phase_a_l2w_mid)], phase_a_l2w_extra),
    series_frame([(phase_start, phase_step_days, phase_c_l1c),
                  (phase_mid_start, phase_step_days, phase_c_l1c_mid)], phase_c_l1c_extra),
    series_frame([(phase_start, phase_step_days, phase_c_l2w),
                  (phase_mid_start, phase_step_days, phase_c_l2w_mid)], phase_c_l2w_extra),
]

draw_panel(ax_code, code_frames, code_labels, (0.1, 1.4), code_yticks,
           code_yticklabels, "Code residual [m]")
draw_panel(ax_phase, phase_frames, phase_labels, (0.5, 4.0), phase_yticks,
           phase_yticklabels, "Phase residual [mm]")

fig.savefig("out.png", dpi=100)
